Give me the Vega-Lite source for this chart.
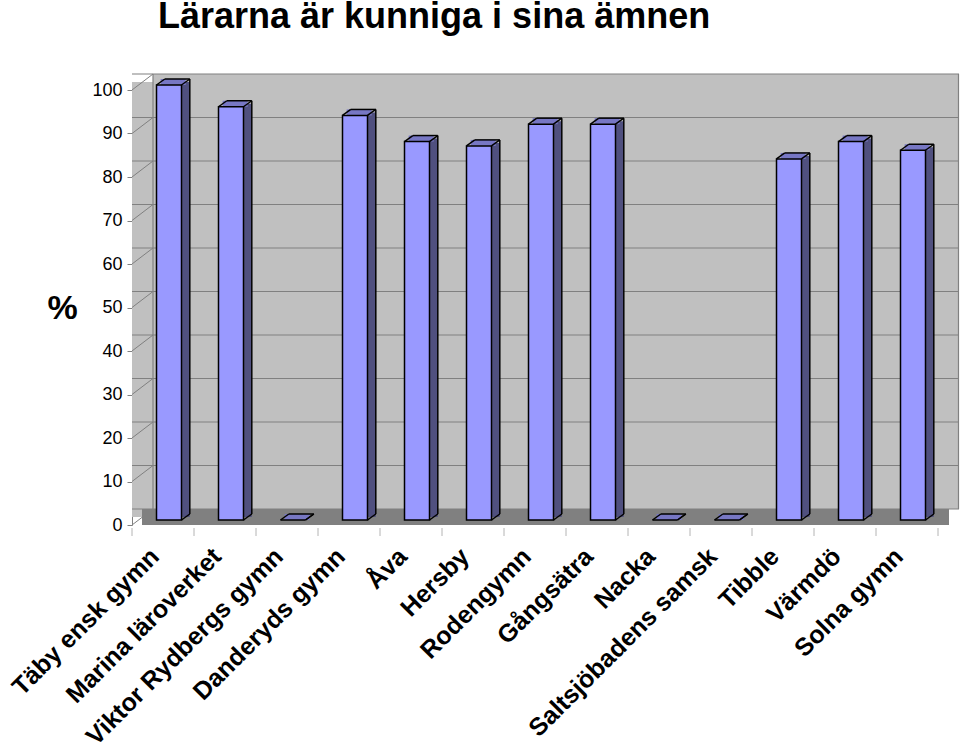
{
  "$schema": "https://vega.github.io/schema/vega-lite/v6.json",
  "width": 806,
  "height": 435,
  "autosize": {"type": "none"},
  "padding": {"left": 132, "top": 90, "right": 22, "bottom": 223},
  "background": "white",
  "title": {"text": "Lärarna är kunniga i sina ämnen", "anchor": "start", "frame": "group", "dx": 26, "fontSize": 36, "fontWeight": "bold", "font": "Liberation Sans", "color": "black", "offset": 9, "baseline": "alphabetic"},
  "config": {"view": {"stroke": null}, "font": "Liberation Sans"},
  "resolve": {"axis": {"x": "independent", "y": "independent"}},
  "datasets": {
    "schools": [
      {"school": "Täby ensk gymn", "v": 100},
      {"school": "Marina läroverket", "v": 95},
      {"school": "Viktor Rydbergs gymn", "v": 0},
      {"school": "Danderyds gymn", "v": 93},
      {"school": "Åva", "v": 87},
      {"school": "Hersby", "v": 86},
      {"school": "Rodengymn", "v": 91},
      {"school": "Gångsätra", "v": 91},
      {"school": "Nacka", "v": 0},
      {"school": "Saltsjöbadens samsk", "v": 0},
      {"school": "Tibble", "v": 83},
      {"school": "Värmdö", "v": 87},
      {"school": "Solna gymn", "v": 85}
    ],
    "grid": [
      {"v": 0}, {"v": 10}, {"v": 20}, {"v": 30}, {"v": 40}, {"v": 50},
      {"v": 60}, {"v": 70}, {"v": 80}, {"v": 90}, {"v": 100}
    ]
  },
  "layer": [
    {
      "data": {"name": "schools"},
      "transform": [{"filter": {"field": "school", "equal": "Täby ensk gymn"}}],
      "mark": {"type": "bar", "width": 21, "xOffset": -20.5, "yOffset": -8, "y2Offset": -8, "fill": "#c0c0c0"},
      "encoding": {
        "x": {"field": "school", "type": "nominal", "sort": null, "scale": {"domain": ["Täby ensk gymn", "Marina läroverket", "Viktor Rydbergs gymn", "Danderyds gymn", "Åva", "Hersby", "Rodengymn", "Gångsätra", "Nacka", "Saltsjöbadens samsk", "Tibble", "Värmdö", "Solna gymn"], "paddingInner": 0, "paddingOuter": 0}, "axis": null},
        "y": {"datum": 100, "type": "quantitative", "scale": {"domain": [0, 100], "nice": false}, "axis": null},
        "y2": {"datum": 0}
      }
    },
    {
      "data": {"name": "schools"},
      "mark": {"type": "bar", "xOffset": 21, "x2Offset": 21, "yOffset": -16, "y2Offset": -16, "fill": "#c0c0c0"},
      "encoding": {
        "x": {"field": "school", "type": "nominal", "sort": null, "scale": {"domain": ["Täby ensk gymn", "Marina läroverket", "Viktor Rydbergs gymn", "Danderyds gymn", "Åva", "Hersby", "Rodengymn", "Gångsätra", "Nacka", "Saltsjöbadens samsk", "Tibble", "Värmdö", "Solna gymn"], "paddingInner": 0, "paddingOuter": 0}, "axis": null},
        "y": {"datum": 100, "type": "quantitative", "scale": {"domain": [0, 100], "nice": false}, "axis": null},
        "y2": {"datum": 0}
      }
    },
    {
      "data": {"name": "schools"},
      "mark": {"type": "tick", "size": 63, "thickness": 16, "xOffset": 10.5, "yOffset": -8, "color": "#808080", "opacity": 1},
      "encoding": {
        "x": {"field": "school", "type": "nominal", "sort": null, "scale": {"domain": ["Täby ensk gymn", "Marina läroverket", "Viktor Rydbergs gymn", "Danderyds gymn", "Åva", "Hersby", "Rodengymn", "Gångsätra", "Nacka", "Saltsjöbadens samsk", "Tibble", "Värmdö", "Solna gymn"], "paddingInner": 0, "paddingOuter": 0}, "axis": null},
        "y": {"datum": 0, "type": "quantitative", "scale": {"domain": [0, 100], "nice": false}, "axis": null}
      }
    },
    {
      "data": {"name": "grid"},
      "mark": {"type": "rule", "xOffset": 21, "x2Offset": 21, "yOffset": -16, "color": "#808080", "strokeWidth": 1.2},
      "encoding": {
        "y": {"field": "v", "type": "quantitative", "scale": {"domain": [0, 100], "nice": false}, "axis": null}
      }
    },
    {
      "data": {"name": "grid"},
      "mark": {"type": "rule", "xOffset": -31, "x2Offset": -10, "y2Offset": -16, "color": "#808080", "strokeWidth": 1},
      "encoding": {
        "x": {"datum": "Täby ensk gymn", "type": "nominal", "bandPosition": 0.5, "scale": {"domain": ["Täby ensk gymn", "Marina läroverket", "Viktor Rydbergs gymn", "Danderyds gymn", "Åva", "Hersby", "Rodengymn", "Gångsätra", "Nacka", "Saltsjöbadens samsk", "Tibble", "Värmdö", "Solna gymn"], "paddingInner": 0, "paddingOuter": 0}, "axis": null},
        "x2": {"datum": "Täby ensk gymn", "bandPosition": 0.5},
        "y": {"field": "v", "type": "quantitative", "scale": {"domain": [0, 100], "nice": false}, "axis": null},
        "y2": {"field": "v"}
      }
    },
    {
      "data": {"name": "schools"},
      "transform": [{"filter": {"field": "school", "equal": "Täby ensk gymn"}}],
      "mark": {"type": "rule", "xOffset": -10, "yOffset": -16, "y2Offset": -16, "color": "#808080", "strokeWidth": 1.2},
      "encoding": {
        "x": {"field": "school", "type": "nominal", "sort": null, "scale": {"domain": ["Täby ensk gymn", "Marina läroverket", "Viktor Rydbergs gymn", "Danderyds gymn", "Åva", "Hersby", "Rodengymn", "Gångsätra", "Nacka", "Saltsjöbadens samsk", "Tibble", "Värmdö", "Solna gymn"], "paddingInner": 0, "paddingOuter": 0}, "axis": null},
        "y": {"datum": 100, "type": "quantitative", "scale": {"domain": [0, 100], "nice": false}, "axis": null},
        "y2": {"datum": 0}
      }
    },
    {
      "data": {"name": "schools"},
      "transform": [{"filter": {"field": "school", "equal": "Solna gymn"}}],
      "mark": {"type": "rule", "xOffset": 51.5, "yOffset": -16, "y2Offset": -16, "color": "#808080", "strokeWidth": 1.2},
      "encoding": {
        "x": {"field": "school", "type": "nominal", "sort": null, "scale": {"domain": ["Täby ensk gymn", "Marina läroverket", "Viktor Rydbergs gymn", "Danderyds gymn", "Åva", "Hersby", "Rodengymn", "Gångsätra", "Nacka", "Saltsjöbadens samsk", "Tibble", "Värmdö", "Solna gymn"], "paddingInner": 0, "paddingOuter": 0}, "axis": null},
        "y": {"datum": 100, "type": "quantitative", "scale": {"domain": [0, 100], "nice": false}, "axis": null},
        "y2": {"datum": 0}
      }
    },
    {
      "data": {"name": "schools"},
      "mark": {"type": "rule", "xOffset": -31, "yOffset": 3, "y2Offset": 11, "color": "#b4b4b4", "strokeWidth": 1},
      "encoding": {
        "x": {"field": "school", "type": "nominal", "sort": null, "scale": {"domain": ["Täby ensk gymn", "Marina läroverket", "Viktor Rydbergs gymn", "Danderyds gymn", "Åva", "Hersby", "Rodengymn", "Gångsätra", "Nacka", "Saltsjöbadens samsk", "Tibble", "Värmdö", "Solna gymn"], "paddingInner": 0, "paddingOuter": 0}, "axis": null},
        "y": {"datum": 0, "type": "quantitative", "scale": {"domain": [0, 100], "nice": false}, "axis": null},
        "y2": {"datum": 0}
      }
    },
    {
      "data": {"name": "schools"},
      "transform": [{"filter": {"field": "school", "equal": "Solna gymn"}}],
      "mark": {"type": "rule", "xOffset": 31, "yOffset": 3, "y2Offset": 11, "color": "#b4b4b4", "strokeWidth": 1},
      "encoding": {
        "x": {"field": "school", "type": "nominal", "sort": null, "scale": {"domain": ["Täby ensk gymn", "Marina läroverket", "Viktor Rydbergs gymn", "Danderyds gymn", "Åva", "Hersby", "Rodengymn", "Gångsätra", "Nacka", "Saltsjöbadens samsk", "Tibble", "Värmdö", "Solna gymn"], "paddingInner": 0, "paddingOuter": 0}, "axis": null},
        "y": {"datum": 0, "type": "quantitative", "scale": {"domain": [0, 100], "nice": false}, "axis": null},
        "y2": {"datum": 0}
      }
    },
    {
      "data": {"name": "schools"},
      "mark": {"type": "bar", "width": 8.3, "xOffset": 22.5, "yOffset": -8, "y2Offset": -8, "fill": "#50507f"},
      "encoding": {
        "x": {"field": "school", "type": "nominal", "sort": null, "scale": {"domain": ["Täby ensk gymn", "Marina läroverket", "Viktor Rydbergs gymn", "Danderyds gymn", "Åva", "Hersby", "Rodengymn", "Gångsätra", "Nacka", "Saltsjöbadens samsk", "Tibble", "Värmdö", "Solna gymn"], "paddingInner": 0, "paddingOuter": 0}, "axis": null},
        "y": {"field": "v", "type": "quantitative", "scale": {"domain": [0, 100], "nice": false}, "axis": null},
        "y2": {"datum": 0}
      }
    },
    {
      "data": {"name": "schools"},
      "mark": {"type": "tick", "size": 25, "thickness": 6, "xOffset": 10.15, "yOffset": -8, "color": "#7777c4", "opacity": 1},
      "encoding": {
        "x": {"field": "school", "type": "nominal", "sort": null, "scale": {"domain": ["Täby ensk gymn", "Marina läroverket", "Viktor Rydbergs gymn", "Danderyds gymn", "Åva", "Hersby", "Rodengymn", "Gångsätra", "Nacka", "Saltsjöbadens samsk", "Tibble", "Värmdö", "Solna gymn"], "paddingInner": 0, "paddingOuter": 0}, "axis": null},
        "y": {"field": "v", "type": "quantitative", "scale": {"domain": [0, 100], "nice": false}, "axis": null}
      }
    },
    {
      "data": {"name": "schools"},
      "mark": {"type": "bar", "width": 25, "xOffset": 6, "yOffset": -5, "y2Offset": -5, "fill": "#9999ff", "stroke": "black", "strokeWidth": 1.5},
      "encoding": {
        "x": {"field": "school", "type": "nominal", "sort": null, "scale": {"domain": ["Täby ensk gymn", "Marina läroverket", "Viktor Rydbergs gymn", "Danderyds gymn", "Åva", "Hersby", "Rodengymn", "Gångsätra", "Nacka", "Saltsjöbadens samsk", "Tibble", "Värmdö", "Solna gymn"], "paddingInner": 0, "paddingOuter": 0},
          "axis": {"title": null, "labelAngle": -45, "labelAlign": "right", "labelBaseline": "middle", "labelFontSize": 25, "labelFontWeight": "bold", "labelFont": "Liberation Sans", "labelColor": "black", "labelOffset": -8, "labelPadding": 27, "ticks": false, "domain": false, "grid": false, "labelLimit": 0, "labelOverlap": false, "labelBound": false}},
        "y": {"field": "v", "type": "quantitative", "scale": {"domain": [0, 100], "nice": false},
          "axis": {"values": [0, 10, 20, 30, 40, 50, 60, 70, 80, 90, 100], "title": "%", "titleAngle": 0, "titleFontSize": 34, "titleFontWeight": "bold", "titleFont": "Liberation Sans", "titleColor": "black", "titleX": -70, "titleY": 218, "titleAlign": "center", "titleBaseline": "middle", "labelFontSize": 18, "labelFont": "Liberation Sans", "labelColor": "black", "labelPadding": 5, "tickSize": 5, "tickColor": "#808080", "domainColor": "#808080", "grid": false, "labelFlush": false, "labelOverlap": false}},
        "y2": {"datum": 0}
      }
    },
    {
      "data": {"name": "schools"},
      "mark": {"type": "rule", "xOffset": -6.5, "x2Offset": 1.8, "yOffset": -5, "y2Offset": -11, "color": "black", "strokeWidth": 1.5},
      "encoding": {
        "x": {"field": "school", "type": "nominal", "sort": null, "bandPosition": 0.5, "scale": {"domain": ["Täby ensk gymn", "Marina läroverket", "Viktor Rydbergs gymn", "Danderyds gymn", "Åva", "Hersby", "Rodengymn", "Gångsätra", "Nacka", "Saltsjöbadens samsk", "Tibble", "Värmdö", "Solna gymn"], "paddingInner": 0, "paddingOuter": 0}, "axis": null},
        "x2": {"field": "school", "bandPosition": 0.5},
        "y": {"field": "v", "type": "quantitative", "scale": {"domain": [0, 100], "nice": false}, "axis": null},
        "y2": {"field": "v"}
      }
    },
    {
      "data": {"name": "schools"},
      "mark": {"type": "rule", "xOffset": 18.5, "x2Offset": 26.8, "yOffset": -5, "y2Offset": -11, "color": "black", "strokeWidth": 1.5},
      "encoding": {
        "x": {"field": "school", "type": "nominal", "sort": null, "bandPosition": 0.5, "scale": {"domain": ["Täby ensk gymn", "Marina läroverket", "Viktor Rydbergs gymn", "Danderyds gymn", "Åva", "Hersby", "Rodengymn", "Gångsätra", "Nacka", "Saltsjöbadens samsk", "Tibble", "Värmdö", "Solna gymn"], "paddingInner": 0, "paddingOuter": 0}, "axis": null},
        "x2": {"field": "school", "bandPosition": 0.5},
        "y": {"field": "v", "type": "quantitative", "scale": {"domain": [0, 100], "nice": false}, "axis": null},
        "y2": {"field": "v"}
      }
    },
    {
      "data": {"name": "schools"},
      "mark": {"type": "rule", "xOffset": 1.8, "x2Offset": 26.8, "yOffset": -11, "y2Offset": -11, "color": "black", "strokeWidth": 1.5},
      "encoding": {
        "x": {"field": "school", "type": "nominal", "sort": null, "bandPosition": 0.5, "scale": {"domain": ["Täby ensk gymn", "Marina läroverket", "Viktor Rydbergs gymn", "Danderyds gymn", "Åva", "Hersby", "Rodengymn", "Gångsätra", "Nacka", "Saltsjöbadens samsk", "Tibble", "Värmdö", "Solna gymn"], "paddingInner": 0, "paddingOuter": 0}, "axis": null},
        "x2": {"field": "school", "bandPosition": 0.5},
        "y": {"field": "v", "type": "quantitative", "scale": {"domain": [0, 100], "nice": false}, "axis": null},
        "y2": {"field": "v"}
      }
    },
    {
      "data": {"name": "schools"},
      "mark": {"type": "rule", "xOffset": 26.8, "yOffset": -11, "y2Offset": -11, "color": "black", "strokeWidth": 1.5},
      "encoding": {
        "x": {"field": "school", "type": "nominal", "sort": null, "bandPosition": 0.5, "scale": {"domain": ["Täby ensk gymn", "Marina läroverket", "Viktor Rydbergs gymn", "Danderyds gymn", "Åva", "Hersby", "Rodengymn", "Gångsätra", "Nacka", "Saltsjöbadens samsk", "Tibble", "Värmdö", "Solna gymn"], "paddingInner": 0, "paddingOuter": 0}, "axis": null},
        "y": {"field": "v", "type": "quantitative", "scale": {"domain": [0, 100], "nice": false}, "axis": null},
        "y2": {"datum": 0}
      }
    },
    {
      "data": {"name": "schools"},
      "mark": {"type": "rule", "xOffset": 18.5, "x2Offset": 26.8, "yOffset": -5, "y2Offset": -11, "color": "black", "strokeWidth": 1.5},
      "encoding": {
        "x": {"field": "school", "type": "nominal", "sort": null, "bandPosition": 0.5, "scale": {"domain": ["Täby ensk gymn", "Marina läroverket", "Viktor Rydbergs gymn", "Danderyds gymn", "Åva", "Hersby", "Rodengymn", "Gångsätra", "Nacka", "Saltsjöbadens samsk", "Tibble", "Värmdö", "Solna gymn"], "paddingInner": 0, "paddingOuter": 0}, "axis": null},
        "x2": {"field": "school", "bandPosition": 0.5},
        "y": {"datum": 0, "type": "quantitative", "scale": {"domain": [0, 100], "nice": false}, "axis": null},
        "y2": {"datum": 0}
      }
    }
  ]
}
